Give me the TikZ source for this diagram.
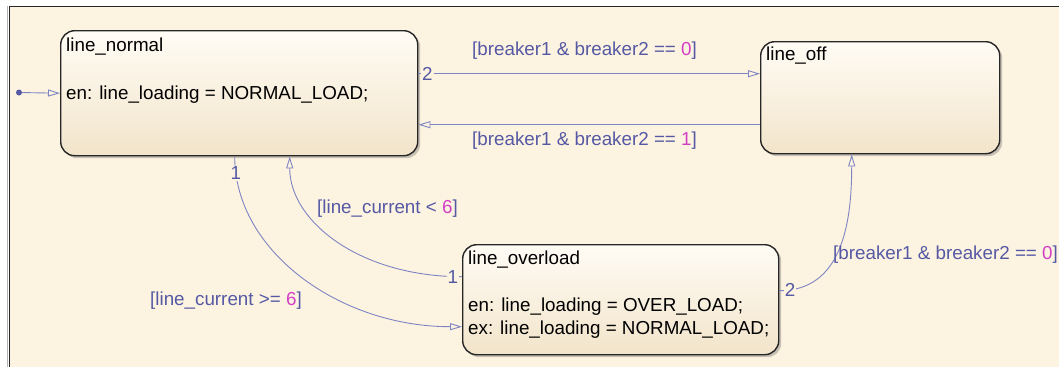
\documentclass[tikz,border=0pt]{standalone}
\usepackage{fontspec}
\setmainfont{Liberation Sans}
\usetikzlibrary{arrows.meta,positioning,shadows,calc}
\definecolor{chartBg}{HTML}{FDF3E1}
\definecolor{stateTop}{HTML}{FFFCF5}
\definecolor{stateBot}{HTML}{F2E4CA}
\definecolor{transLine}{HTML}{7E85C3}
\definecolor{transText}{HTML}{5559A4}
\definecolor{numPink}{HTML}{D23FC5}
\newcommand{\pk}[1]{\textcolor{numPink}{#1}}

\begin{document}
\begin{tikzpicture}[
  x=1pt, y=-1pt,
  font=\fontsize{18.8}{22}\selectfont,
  state/.style={draw=black!85, line width=1.4pt, rounded corners=14pt,
    top color=stateTop, bottom color=stateBot, anchor=north west, inner sep=0pt,
    drop shadow={shadow xshift=2.5pt, shadow yshift=-2.5pt, opacity=0.3, fill=black!70}},
  stext/.style={anchor=base west, inner sep=0pt, text=black},
  trans/.style={draw=transLine, line width=0.9pt,
    -{Triangle[open, length=12pt, width=7pt]}},
  guard/.style={anchor=base west, inner sep=0pt, text=transText},
  num/.style={fill=chartBg, inner sep=1pt, text=transText},
]
% chart area
\useasboundingbox (0,0) rectangle (1059,367);
\fill[white] (0,0) rectangle (1059,367);
\fill[chartBg] (9,6) rectangle (1059,367);
\draw[black!30, line width=1pt] (7.5,367) -- (7.5,6);
\draw[black!85, line width=1.6pt] (9.5,367) -- (9.5,6.5) -- (1059,6.5);

% states
\node[state, minimum width=357pt, minimum height=125pt] (normal) at (60,30) {};
\node[state, minimum width=239pt, minimum height=112pt] (off) at (760,41) {};
\node[state, minimum width=316pt, minimum height=110pt] (overload) at (462,244) {};

\node[stext] (normalName) at (66,51.5) {line\_normal};
\node[stext] (normalEn) at (66,99.5) {en: line\_loading = NORMAL\_LOAD;};
\node[stext] (offName) at (766,60.5) {line\_off};
\node[stext] (overloadName) at (468,264) {line\_overload};
\node[stext] (overloadEn) at (468,311.5) {en: line\_loading = OVER\_LOAD;};
\node[stext] (overloadEx) at (468,334.5) {ex: line\_loading = NORMAL\_LOAD;};

% default transition
\node[circle, fill=transText, inner sep=0pt, minimum size=6pt] (init) at (19,92.5) {};
\draw[trans] (init) -- (normal.west);

% transitions
\coordinate (offIn) at ([yshift=24pt]off.west);
\coordinate (offOut) at ([yshift=-27pt]off.west);
\draw[trans] (offIn -| normal.east) -- node[num, pos=0.026]{2} (offIn);
\draw[trans] (offOut) -- (offOut -| normal.east);
\draw[trans] ([xshift=-4.5pt]normal.south) .. controls +(0,95) and +(-122,0) ..
  node[num, pos=0.06]{1} ([yshift=-27pt]overload.west);
\draw[trans] ([yshift=23pt]overload.west) .. controls +(-102,0) and +(0,65) ..
  node[num, pos=0.03]{1} ([xshift=50.5pt]normal.south);
\draw[trans] ([yshift=9pt]overload.east) .. controls +(62,0) and +(0,70) ..
  node[num, pos=0.06]{2} ([xshift=-28.5pt]off.south);

% guards
\node[guard] (gOn) at (472,55) {[breaker1 \& breaker2 == \pk{0}]};
\node[guard] (gBack) at (472,145) {[breaker1 \& breaker2 == \pk{1}]};
\node[guard] (gLow) at (317,213) {[line\_current < \pk{6}]};
\node[guard] (gHigh) at (150,305) {[line\_current >= \pk{6}]};
\node[guard] (gOff) at (833,259) {[breaker1 \& breaker2 == \pk{0}]};
\end{tikzpicture}
\end{document}
